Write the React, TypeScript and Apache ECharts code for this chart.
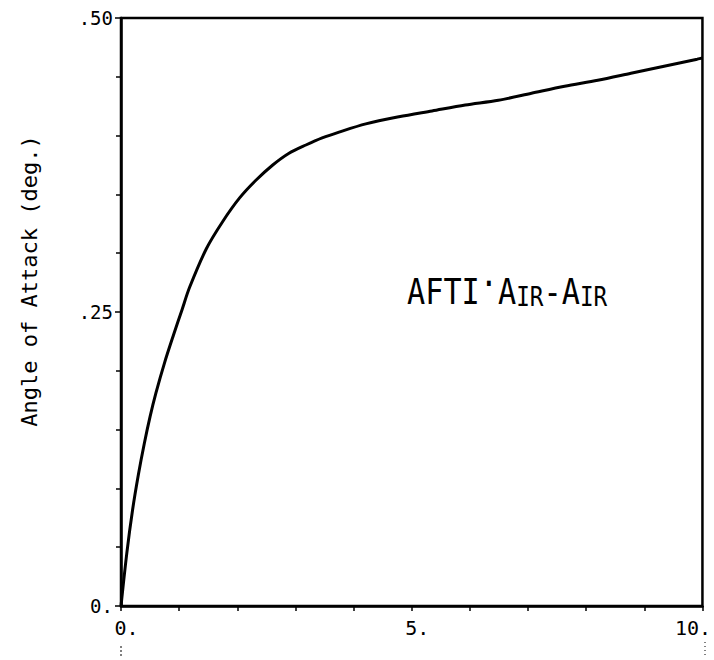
import React, { useEffect, useRef } from "react";
import * as echarts from "echarts";

const curveX = [0, 0.1, 0.2, 0.3, 0.4, 0.5, 0.6, 0.75, 0.9, 1.05, 1.18, 1.47, 1.75, 2.04, 2.32, 2.61, 2.89, 3.18, 3.46, 3.75, 4.21, 4.78, 5.35, 5.92, 6.49, 7.06, 7.63, 8.2, 8.77, 9.34, 9.91, 10];
const curveY = [0, 0.045, 0.082, 0.112, 0.138, 0.161, 0.181, 0.207, 0.23, 0.252, 0.271, 0.304, 0.327, 0.347, 0.362, 0.375, 0.385, 0.392, 0.398, 0.403, 0.41, 0.416, 0.421, 0.426, 0.43, 0.436, 0.442, 0.447, 0.453, 0.459, 0.465, 0.466];

const yTickLabels: Record<string, string> = { "0": "0.", "0.25": ".25", "0.5": ".50" };
const xTickLabels: Record<string, string> = { "0": "{a|0.}", "5": "{a|5.}", "10": "{b|10.}" };

const yTitle = "Angle of Attack (deg.)";
const MONO = "'DejaVu Sans Mono', 'Liberation Mono', monospace";

export default function App() {
  const ref = useRef<HTMLDivElement>(null);
  useEffect(() => {
    if (!ref.current) return;
    const chart = echarts.init(ref.current, undefined, { renderer: "svg" });
    chart.setOption({
      animation: false,
      backgroundColor: "#ffffff",
      grid: {
        left: 121,
        right: 9,
        top: 18,
        bottom: 54,
        show: true,
        borderColor: "#000",
        borderWidth: 2.5,
      },
      xAxis: {
        type: "value",
        min: 0,
        max: 10,
        interval: 1,
        axisLine: { show: true, lineStyle: { color: "#000", width: 2.5 } },
        axisTick: { show: true, length: 5, lineStyle: { color: "#000", width: 1.5 } },
        splitLine: { show: false },
        axisLabel: {
          color: "#000",
          fontFamily: MONO,
          fontSize: 20,
          margin: 12,
          formatter: (v: number) => xTickLabels[String(v)] ?? "",
          rich: {
            a: { fontFamily: MONO, fontSize: 20, color: "#000", padding: [0, 0, 0, 11] },
            b: { fontFamily: MONO, fontSize: 20, color: "#000", padding: [0, 19, 0, 0] },
          },
        },
      },
      yAxis: {
        type: "value",
        min: 0,
        max: 0.5,
        interval: 0.25,
        axisLine: { show: true, lineStyle: { color: "#000", width: 2.5 } },
        axisTick: { show: true, length: 6, lineStyle: { color: "#000", width: 1.5 } },
        minorTick: { show: true, splitNumber: 5, length: 5, lineStyle: { color: "#000", width: 1.5 } },
        splitLine: { show: false },
        axisLabel: {
          color: "#000",
          fontFamily: MONO,
          fontSize: 19,
          margin: 8,
          formatter: (v: number) => yTickLabels[String(v)] ?? "",
        },
      },
      series: [
        {
          type: "line",
          data: curveX.map((x, i) => [x, curveY[i]]),
          showSymbol: false,
          smooth: 0.3,
          lineStyle: { color: "#000", width: 3 },
        },
      ],
      graphic: [
        {
          type: "text",
          x: 29,
          y: 281,
          rotation: Math.PI / 2,
          style: {
            text: yTitle,
            align: "center",
            verticalAlign: "middle",
            fill: "#000",
            fontFamily: MONO,
            fontSize: 22,
          },
        },
        {
          type: "text",
          x: 407,
          y: 310,
          scaleX: 0.84,
          style: {
            text: "{b|AFTI}{d|·}{b|A}{s|IR}{b|-A}{s|IR}",
            align: "left",
            verticalAlign: "bottom",
            fill: "#000",
            rich: {
              b: { fontFamily: MONO, fontSize: 36, lineHeight: 36, verticalAlign: "bottom", fill: "#000" },
              s: { fontFamily: MONO, fontSize: 27, lineHeight: 31, verticalAlign: "bottom", fill: "#000" },
              d: { fontFamily: MONO, fontSize: 36, lineHeight: 36, verticalAlign: "bottom", fill: "#000", padding: [0, 0, 8, 0] },
            },
          },
        },
        { type: "line", shape: { x1: 121, y1: 646, x2: 121, y2: 658 }, style: { stroke: "#000", lineWidth: 1, lineDash: [2, 2] } },
        { type: "line", shape: { x1: 705, y1: 642, x2: 705, y2: 656 }, style: { stroke: "#000", lineWidth: 1, lineDash: [1, 3] } },
      ],
    });
    return () => chart.dispose();
  }, []);
  return <div ref={ref} style={{ position: "absolute", left: 0, top: 0, width: 714, height: 660 }} />;
}
